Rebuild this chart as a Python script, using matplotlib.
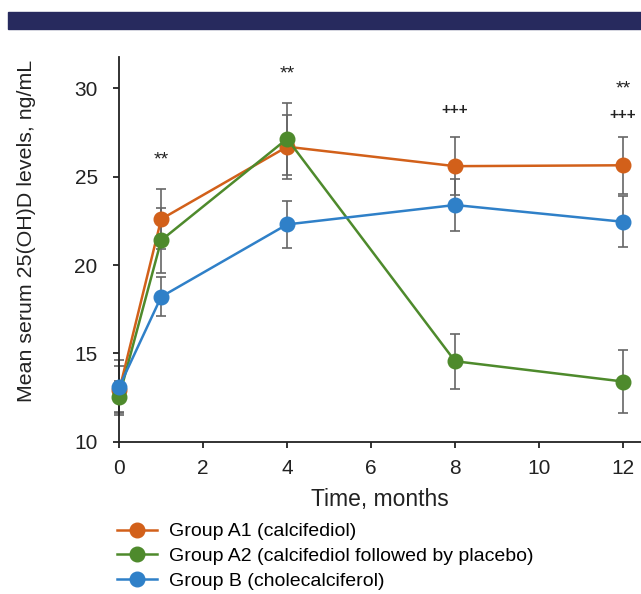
import matplotlib.pyplot as plt
from matplotlib.patches import Rectangle

plt.rcParams['font.family'] = ['Liberation Sans', 'DejaVu Sans']

# data
months = [0, 1, 4, 8, 12]
a1_mean = [12.9, 22.6, 26.7, 25.6, 25.65]
a1_err = [1.4, 1.7, 1.8, 1.65, 1.6]
a2_mean = [12.55, 21.4, 27.15, 14.55, 13.4]
a2_err = [0.9, 1.85, 2.05, 1.55, 1.8]
b_mean = [13.1, 18.2, 22.3, 23.4, 22.45]
b_err = [1.5, 1.1, 1.35, 1.5, 1.45]

labels = ['Group A1 (calcifediol)',
          'Group A2 (calcifediol followed by placebo)',
          'Group B (cholecalciferol)']
colors = ['#d2601a', '#4e8a2c', '#2f80c8']

# significance marks
marks_x = [1, 4, 8, 12, 12]
marks_y = [26.1, 31.0, 28.8, 30.1, 28.5]
marks_txt = ['**', '**', '+++', '**', '+++']

fig = plt.figure(figsize=(6.41, 5.94), dpi=100)
fig.patches.append(Rectangle((8 / 641, 1 - 29.3 / 594), 1, 17 / 594,
                             transform=fig.transFigure, color='#272a5e'))

ax = fig.add_axes([0.186, 0.2567, 0.814, 0.6478])

series = [(a1_mean, a1_err), (a2_mean, a2_err), (b_mean, b_err)]
handles = []
for (m, e), c, lab in zip(series, colors, labels):
    ax.errorbar(months, m, yerr=e, fmt='none', ecolor='#666666',
                elinewidth=1.2, capsize=3.5, capthick=1.2, zorder=2,
                clip_on=False)
    h, = ax.plot(months, m, '-o', color=c, lw=1.8, ms=10.5, label=lab,
                 zorder=3, clip_on=False)
    handles.append(h)

for x, y, t in zip(marks_x, marks_y, marks_txt):
    if t == '**':
        ax.text(x, y - 0.15, t, ha='center', va='center', fontsize=14,
                color='#222222')
    else:
        ax.text(x, y, t, ha='center', va='center', fontsize=11,
                fontweight='bold', color='#222222')

ax.set_xlim(0, 12.43)
ax.set_ylim(10, 31.8)
ax.set_xticks([0, 2, 4, 6, 8, 10, 12])
ax.set_yticks([10, 15, 20, 25, 30])
ax.spines['top'].set_visible(False)
ax.spines['right'].set_visible(False)
for s in ['left', 'bottom']:
    ax.spines[s].set_linewidth(1.3)
    ax.spines[s].set_color('#222222')
ax.tick_params(axis='both', direction='out', length=4.5, width=1.3,
               labelsize=15, colors='#222222')
ax.tick_params(axis='y', pad=11)
ax.tick_params(axis='x', pad=8)

ax.set_xlabel('Time, months', fontsize=16.5, color='#222222')
ax.xaxis.set_label_coords(0.5, -0.12)
ax.set_ylabel('Mean serum 25(OH)D levels, ng/mL', fontsize=15.4,
              color='#222222')
ax.yaxis.set_label_coords(-0.16, 0.547)

fig.legend(handles=handles, loc='upper left', bbox_to_anchor=(0.182, 0.12),
           frameon=False, fontsize=14, handlelength=2.1, handletextpad=0.6,
           labelspacing=0.36, borderpad=0, borderaxespad=0)

fig.savefig('out.png', dpi=100)
